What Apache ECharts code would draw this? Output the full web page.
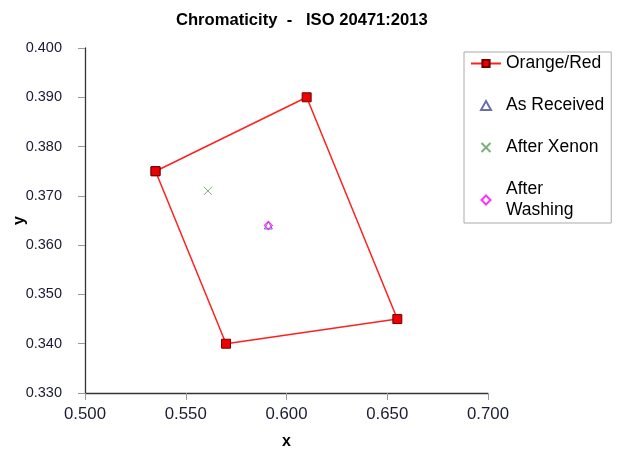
<!DOCTYPE html>
<html>
<head>
<meta charset="utf-8">
<script src="https://cdn.jsdelivr.net/npm/echarts@6/dist/echarts.min.js"></script>
<style>
  html, body { margin: 0; padding: 0; background: #fff; }
  #chart { width: 624px; height: 450px; }
</style>
</head>
<body>
<div id="chart"></div>
<script>
// Orange/Red boundary (closed polygon)
var boundaryX = [0.535, 0.610, 0.655, 0.570, 0.535];
var boundaryY = [0.375, 0.390, 0.345, 0.340, 0.375];
// sample points
var asReceived = [[0.591, 0.364]];
var afterXenon = [[0.561, 0.371]];
var afterWashing = [[0.591, 0.364]];

var xTicks = [0.5, 0.7, 0.05];
var yTicks = [0.33, 0.4, 0.01];

var font = "Liberation Sans, Arial, sans-serif";
var chart = echarts.init(document.getElementById("chart"));

var boundary = boundaryX.map(function (x, i) {
  return [x, boundaryY[i]];
});

// open markers as paths so the legend keeps their aspect
var triangleIcon = "path://M5,0L10,9L0,9Z";
var crossIcon = "path://M0,0L10,10M10,0L0,10";
var diamondIcon = "path://M5,0L10,5L5,10L0,5Z";

var option = {
  animation: false,
  title: {
    text: "Chromaticity  -   ISO 20471:2013",
    left: 171,
    top: 7,
    textStyle: { fontFamily: font, fontSize: 16.6, fontWeight: "bold", color: "#000" },
  },
  grid: { left: 85, right: 136, top: 48, bottom: 57, outerBoundsMode: "none" },
  legend: {
    orient: "vertical",
    left: 464,
    top: 52,
    padding: [1, 7, 2, 6],
    itemWidth: 30,
    itemHeight: 9,
    itemGap: 21,
    symbolKeepAspect: true,
    borderColor: "#aaa",
    borderWidth: 1,
    textStyle: { fontFamily: font, fontSize: 17.5, color: "#000", lineHeight: 21 },
    formatter: function (name) {
      return name === "After Washing" ? "After\nWashing" : name;
    },
    data: ["Orange/Red", "As Received", "After Xenon", "After Washing"],
  },
  xAxis: {
    type: "value",
    min: xTicks[0],
    max: xTicks[1],
    interval: xTicks[2],
    name: "x",
    nameLocation: "middle",
    nameGap: 41,
    nameMoveOverlap: false,
    nameTextStyle: { fontFamily: font, fontSize: 16, fontWeight: "bold", color: "#000" },
    splitLine: { show: false },
    axisLine: { lineStyle: { color: "#333", width: 1.3 } },
    axisTick: { show: true, length: 7, lineStyle: { color: "#999" } },
    axisLabel: {
      margin: 13,
      fontFamily: font,
      fontSize: 16.8,
      color: "#1a1a33",
      formatter: function (v) { return v.toFixed(3); },
    },
  },
  yAxis: {
    type: "value",
    min: yTicks[0],
    max: yTicks[1],
    interval: yTicks[2],
    name: "y",
    nameLocation: "middle",
    nameGap: 57,
    nameMoveOverlap: false,
    nameTextStyle: { fontFamily: font, fontSize: 16, fontWeight: "bold", color: "#000" },
    splitLine: { show: false },
    axisLine: { show: true, lineStyle: { color: "#333", width: 1.3 } },
    axisTick: { show: true, length: 7, lineStyle: { color: "#999" } },
    axisLabel: {
      margin: 23,
      fontFamily: font,
      fontSize: 14.5,
      color: "#1a1a33",
      formatter: function (v) { return v.toFixed(3); },
    },
  },
  series: [
    {
      name: "Orange/Red",
      type: "line",
      data: boundary,
      symbol: "rect",
      symbolSize: 9,
      lineStyle: { color: "#ff2020", width: 1.5 },
      itemStyle: { color: "#ee0000", borderColor: "#700000", borderWidth: 1 },
    },
    {
      name: "As Received",
      type: "scatter",
      data: asReceived,
      symbol: triangleIcon,
      symbolSize: 8,
      symbolKeepAspect: true,
      itemStyle: { color: "rgba(0,0,0,0)", borderColor: "#4a4a9a", borderWidth: 1 },
    },
    {
      name: "After Xenon",
      type: "scatter",
      data: afterXenon,
      symbol: crossIcon,
      symbolSize: 8,
      symbolKeepAspect: true,
      itemStyle: { color: "rgba(0,0,0,0)", borderColor: "#5a9a5a", borderWidth: 1 },
    },
    {
      name: "After Washing",
      type: "scatter",
      data: afterWashing,
      symbol: diamondIcon,
      symbolSize: 8,
      symbolKeepAspect: true,
      itemStyle: { color: "rgba(0,0,0,0)", borderColor: "#ff00ff", borderWidth: 1.2 },
    },
  ],
};

chart.setOption(option);
</script>
</body>
</html>
